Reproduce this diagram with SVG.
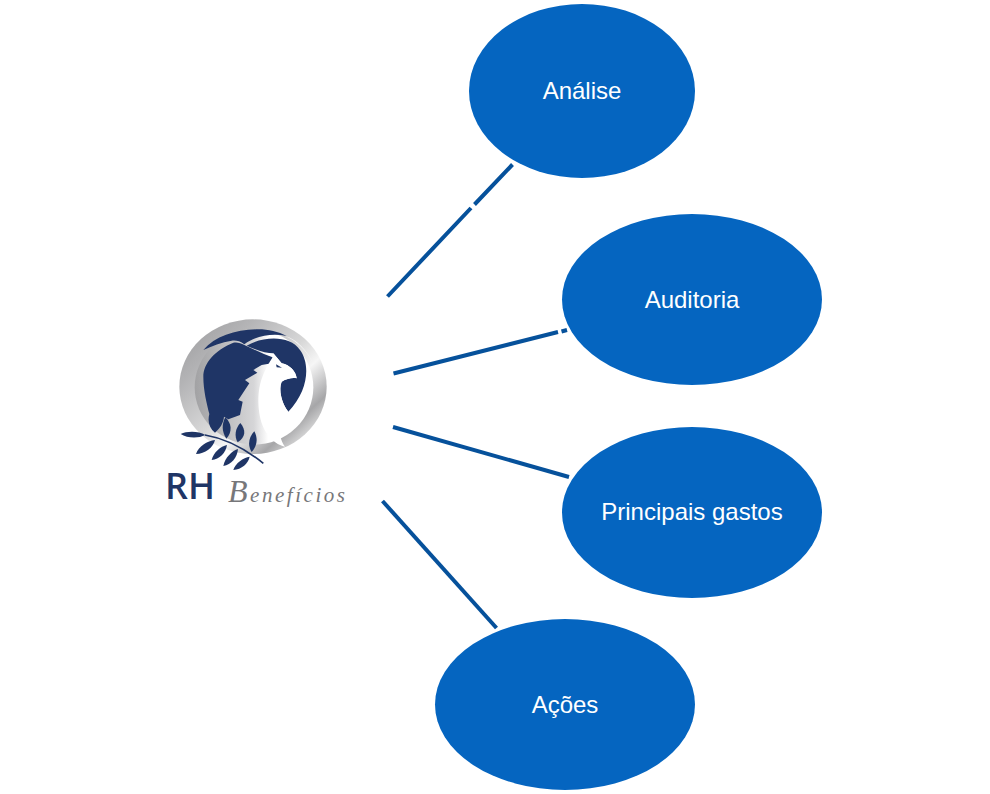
<svg xmlns="http://www.w3.org/2000/svg" width="990" height="794" viewBox="0 0 990 794">
<style>
.n{fill:#0565c0}
.t{fill:#fff;font:24px "Liberation Sans",Arial,sans-serif;text-anchor:middle}
.c{stroke:#06519b;stroke-width:4;fill:none}
.d{fill:#1f3566}
</style>
<defs>
<linearGradient id="s" x1="0" y1="0" x2="1" y2="1">
<stop offset="0" stop-color="#98989a"/><stop offset=".25" stop-color="#b4b4b6"/><stop offset=".5" stop-color="#d8d8d8"/><stop offset=".62" stop-color="#f6f6f6"/><stop offset=".78" stop-color="#a6a6a8"/><stop offset=".9" stop-color="#ececec"/><stop offset="1" stop-color="#9a9a9c"/>
</linearGradient>
<linearGradient id="h" x1="0" y1="0" x2="1" y2="0">
<stop offset="0" stop-color="#a2a2a4"/><stop offset=".5" stop-color="#d6d6d8"/><stop offset=".62" stop-color="#fff"/><stop offset="1" stop-color="#fff"/>
</linearGradient>
</defs>
<rect width="990" height="794" fill="#fff"/>
<g id="connectors">
<path class="c" d="M387.500 296.500 471 208M474.500 204.500 512.500 164.500"/>
<path class="c" d="M393.500 373.500 558 332M561.500 331.500 567 330"/>
<path class="c" d="M393 427 569 477"/>
<path class="c" d="M382.500 501 496.500 628"/>
</g>
<g id="logo">
<g transform="translate(150 300) scale(.33333)">
<ellipse cx="309" cy="260" rx="221" ry="202" fill="url(#s)"/>
<ellipse cx="312" cy="262" rx="178" ry="172" fill="url(#h)"/>
<path d="M405 108C440 122 468 150 490 190 470 150 440 118 405 108Z" fill="#fff"/>
<path class="d" d="M160 150C195 108 260 88 325 88 355 88 385 95 410 108 370 100 320 105 283 133 270 122 255 120 245 122 215 127 185 138 160 150Z"/>
<path class="d" d="M250 128C195 150 160 190 160 230 160 270 170 310 178 342 172 365 178 385 195 398 210 385 220 370 222 350L235 358 270 345 278 305 265 300 298 250 285 240 322 218 310 210 335 195 365 190 368 172C345 165 315 150 283 135 272 128 260 126 250 128Z"/>
<path class="d" d="M290 137C340 108 420 105 450 150 480 190 478 270 415 335 395 310 385 270 395 245 410 235 430 232 440 235 438 215 420 195 395 190L370 160C350 160 320 150 290 137Z"/>
<path d="M370 160 395 190C420 195 438 215 440 235 430 232 410 235 395 245 385 270 395 310 415 335 392 355 378 400 405 440 365 432 335 390 328 340 322 290 322 240 368 172Z" fill="#fff"/>
<path d="M378 193 396 203 380 202Z" class="d"/>
<path class="d" d="M92 402C110 393 145 392 166 405 145 416 112 415 92 402Z"/>
<path class="d" d="M138 462C145 440 172 422 195 420 190 442 165 462 138 462Z"/>
<path class="d" d="M185 480C190 458 212 438 231 435 228 458 208 478 185 480Z"/>
<path class="d" d="M220 498C224 474 248 450 264 447 262 472 244 494 220 498Z"/>
<path class="d" d="M250 510C256 490 280 472 299 470 295 490 275 508 250 510Z"/>
<path class="d" d="M226 352C245 370 248 395 229 416 215 395 215 372 226 352Z"/>
<path class="d" d="M271 369C288 390 288 410 263 427 252 408 256 385 271 369Z"/>
<path class="d" d="M313 394C324 415 322 438 305 456 292 436 296 412 313 394Z"/>
<path d="M165 405C225 415 290 450 340 490" stroke="#1f3566" stroke-width="5" fill="none"/>
</g>
<text x="165" y="499" font-family="'Open Sans','Liberation Sans',sans-serif" font-size="36" font-weight="600" fill="#1f3566" textLength="50" lengthAdjust="spacingAndGlyphs">RH</text>
<text x="228" y="502" font-family="'Liberation Serif',serif" font-style="italic" fill="#77777a" textLength="117" lengthAdjust="spacing"><tspan font-size="32">B</tspan><tspan font-size="21">enefícios</tspan></text>
</g>
<g id="node-analise"><ellipse class="n" cx="582" cy="91" rx="113" ry="87"/><text class="t" x="582" y="99">Análise</text></g>
<g id="node-auditoria"><ellipse class="n" cx="692" cy="299.500" rx="130" ry="85.500"/><text class="t" x="692" y="308">Auditoria</text></g>
<g id="node-gastos"><ellipse class="n" cx="692" cy="512.500" rx="130" ry="85.500"/><text class="t" x="692" y="520">Principais gastos</text></g>
<g id="node-acoes"><ellipse class="n" cx="565" cy="704.500" rx="130" ry="85.500"/><text class="t" x="565" y="713">Ações</text></g>
</svg>
